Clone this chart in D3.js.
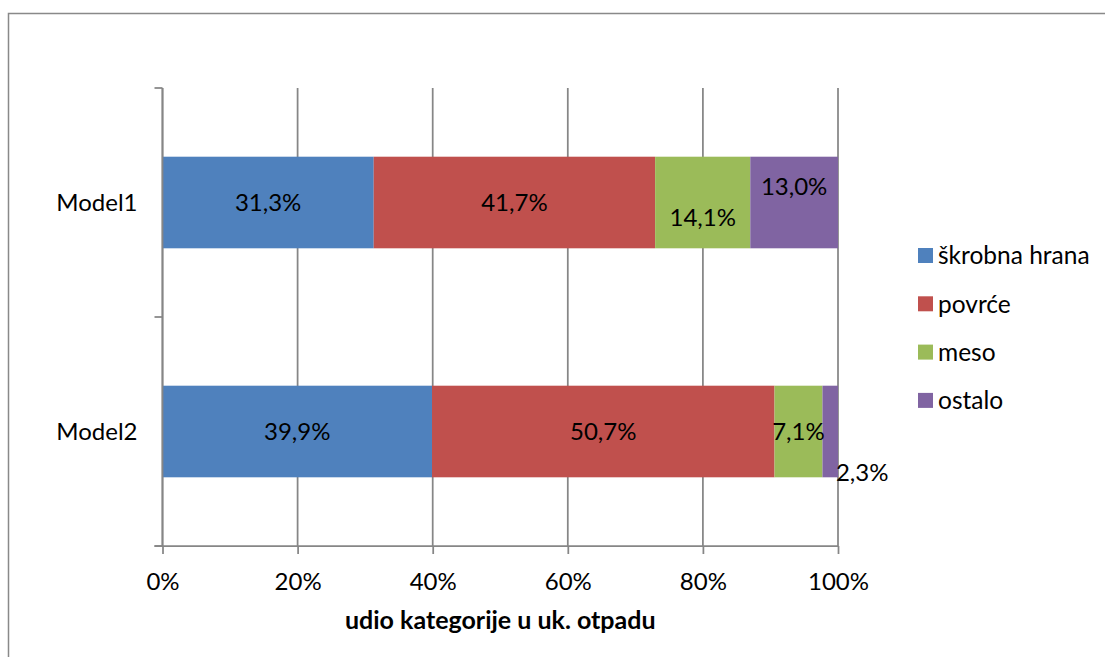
<!DOCTYPE html>
<html>
<head>
<meta charset="utf-8">
<script src="https://cdn.jsdelivr.net/npm/d3@7"></script>
<style>
  body { margin: 0; background: #fff; }
  text { font-family: Lato, "Open Sans", sans-serif; fill: #000; }
</style>
</head>
<body>
<div id="chart"></div>
<script>
// chart data
var models = ["Model1", "Model2"];
var series = ["škrobna hrana", "povrće", "meso", "ostalo"];
var skrobna = [31.3, 39.9];
var povrce = [41.7, 50.7];
var meso = [14.1, 7.1];
var ostalo = [13.0, 2.3];
var xTicks = [0, 0.2, 0.4, 0.6, 0.8, 1];
var axisTitle = "udio kategorije u uk. otpadu";

var colors = ["#4F81BD", "#C0504D", "#9BBB59", "#8064A2"];
// label nudges (dx, dy) per model / series, Excel moved some to avoid overlap
var nudge = [
  [[0, 0], [0, 0], [0, 15], [0, -16]],
  [[0, 0], [0, 0], [0, 0], [32, 41]]
];

var width = 1105, height = 657;
var plotL = 162.5, plotR = 838, plotT = 88, plotB = 546;

var rows = models.map(function (m, i) {
  return { model: m, "škrobna hrana": skrobna[i], "povrće": povrce[i], meso: meso[i], ostalo: ostalo[i] };
});

var stacked = d3.stack().keys(series).offset(d3.stackOffsetExpand)(rows);

var svg = d3.select("#chart").append("svg")
  .attr("width", width)
  .attr("height", height);

// outer frame
svg.append("rect")
  .attr("x", 8.5).attr("y", 13.5)
  .attr("width", 1200).attr("height", 800)
  .attr("fill", "none")
  .attr("stroke", "#898989")
  .attr("stroke-width", 1.5);

var x = d3.scaleLinear().domain([0, 1]).range([plotL, plotR]);
var y = d3.scaleBand().domain(models).range([plotT, plotB]).padding(0);
var barH = y.bandwidth() / 2.5;

// gridlines
svg.append("g").selectAll("line")
  .data(xTicks)
  .enter().append("line")
  .attr("x1", function (d) { return x(d); })
  .attr("x2", function (d) { return x(d); })
  .attr("y1", plotT).attr("y2", plotB)
  .attr("stroke", "#868686")
  .attr("stroke-width", 1.75);

// bars
var groups = svg.append("g").selectAll("g")
  .data(stacked)
  .enter().append("g")
  .attr("fill", function (d, i) { return colors[i]; });

groups.selectAll("rect")
  .data(function (d) { return d; })
  .enter().append("rect")
  .attr("x", function (d) { return x(d[0]); })
  .attr("width", function (d) { return x(d[1]) - x(d[0]); })
  .attr("y", function (d) { return y(d.data.model) + (y.bandwidth() - barH) / 2; })
  .attr("height", barH);

// data labels
stacked.forEach(function (s, si) {
  svg.append("g").selectAll("text")
    .data(s)
    .enter().append("text")
    .attr("x", function (d, i) { return (x(d[0]) + x(d[1])) / 2 + nudge[i][si][0]; })
    .attr("y", function (d, i) { return y(d.data.model) + y.bandwidth() / 2 + nudge[i][si][1]; })
    .attr("dy", "0.36em")
    .attr("text-anchor", "middle")
    .attr("font-size", 24)
    .text(function (d) { return d.data[s.key].toFixed(1).replace(".", ",") + "%"; });
});

// x axis
var xAxis = d3.axisBottom(x)
  .tickValues(xTicks)
  .tickSize(8)
  .tickPadding(19)
  .tickFormat(function (d) { return Math.round(d * 100) + "%"; });

var gx = svg.append("g")
  .attr("transform", "translate(0," + plotB + ")")
  .call(xAxis);
gx.select(".domain").remove();
gx.append("line")
  .attr("x1", plotL - 8).attr("x2", plotR)
  .attr("stroke", "#868686").attr("stroke-width", 1.75);
gx.selectAll(".tick line").attr("stroke", "#868686").attr("stroke-width", 1.75);
gx.selectAll(".tick text").attr("font-size", 24).attr("fill", "#000")
  .attr("font-family", "Lato, sans-serif");

// y axis line and boundary ticks
svg.append("line")
  .attr("x1", plotL).attr("x2", plotL)
  .attr("y1", plotT).attr("y2", plotB)
  .attr("stroke", "#868686").attr("stroke-width", 1.75);
var bounds = models.map(function (m) { return y(m); }).concat([plotB]);
svg.append("g").selectAll("line")
  .data(bounds)
  .enter().append("line")
  .attr("x1", plotL - 8).attr("x2", plotL)
  .attr("y1", function (d) { return d; })
  .attr("y2", function (d) { return d; })
  .attr("stroke", "#868686").attr("stroke-width", 1.75);

// category labels
svg.append("g").selectAll("text")
  .data(models)
  .enter().append("text")
  .attr("x", plotL - 25)
  .attr("y", function (d) { return y(d) + y.bandwidth() / 2; })
  .attr("dy", "0.36em")
  .attr("text-anchor", "end")
  .attr("font-size", 24)
  .text(function (d) { return d; });

// axis title
svg.append("text")
  .attr("x", (plotL + plotR) / 2)
  .attr("y", 629)
  .attr("text-anchor", "middle")
  .attr("font-size", 25)
  .attr("font-weight", "bold")
  .text(axisTitle);

// legend
var legend = svg.append("g").selectAll("g")
  .data(series)
  .enter().append("g")
  .attr("transform", function (d, i) { return "translate(918," + (255.5 + i * 48.3) + ")"; });
legend.append("rect")
  .attr("x", 0).attr("y", -7.5)
  .attr("width", 15).attr("height", 15)
  .attr("fill", function (d, i) { return colors[i]; });
legend.append("text")
  .attr("x", 20)
  .attr("dy", "0.36em")
  .attr("font-size", 24.5)
  .text(function (d) { return d; });
</script>
</body>
</html>
